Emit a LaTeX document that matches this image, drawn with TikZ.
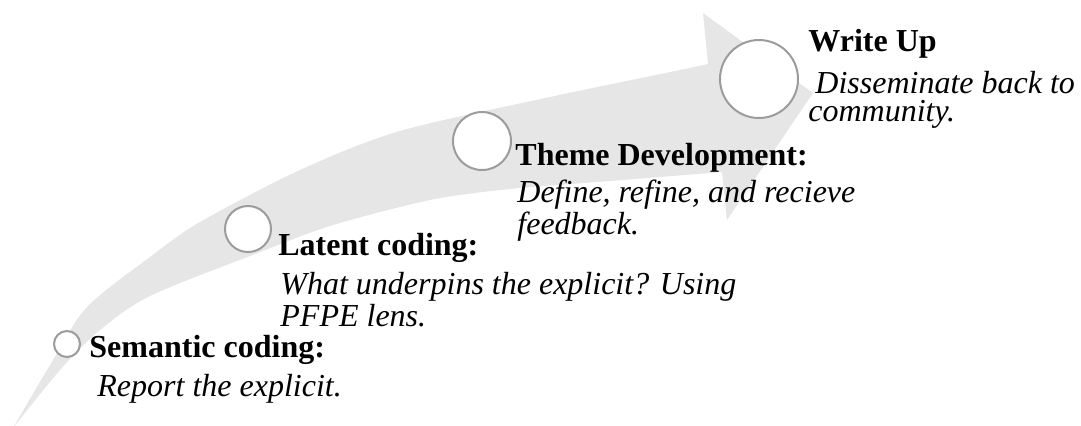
\documentclass[tikz,border=0pt]{standalone}
\usepackage{fontspec}
\setmainfont{Liberation Serif}
\definecolor{bandgray}{HTML}{E6E6E6}
\definecolor{ringgray}{HTML}{9C9C9C}
\tikzstyle{stage}=[circle,draw=ringgray,line width=1pt,fill=white,inner sep=0pt]
\tikzstyle{head}=[anchor=base west,inner sep=0pt,font=\fontsize{16}{14}\selectfont\bfseries]
\tikzstyle{note}=[anchor=base west,inner sep=0pt,align=left,font=\fontsize{16}{14}\selectfont\itshape]

\begin{document}
\begin{tikzpicture}[x=0.5pt,y=-0.5pt]
    \useasboundingbox (0,0) rectangle (1081,425);
    % The curved grey arrow
    \fill[bandgray] plot[smooth] coordinates {(13,428) (53,360) (87,307) (150,257) (200,222) (300,170) (400,131) (550,97) (680,70) (708,64)}
        -- (703,13) -- (813,93) -- (727,220) -- (722,172)
        -- plot[smooth] coordinates {(722,172) (610,181) (510,189) (430,200) (330,226) (250,256) (150,296) (100,330) (60,370) (13,428)} -- cycle;
    % Then the stage circles
    \foreach \pos/\name/\size in {{(67,344)/sem/13pt}, {(248,229)/lat/23pt}, {(482,141)/thm/29pt}, {(759,79)/wri/39pt}}
        \node[stage,minimum size=\size] (\name) at \pos {};
    % Titles and notes (a note sits on its last baseline)
    \node[head] (semT) at (89,357) {Semantic coding:};
    \node[note] (semN) at (97,396) {Report the explicit.};
    \node[head] (latT) at (278,255) {Latent coding:};
    \node[note] (latN) at (280,326) {What underpins the explicit? Using\\PFPE lens.};
    \node[head] (thmT) at (515,165) {Theme Development:};
    \node[note] (thmN) at (517,234) {Define, refine, and recieve\\feedback.};
    \node[head] (wriT) at (808,51) {Write Up};
    \node[note] (wriN) at (808,121) {\hspace*{3.5pt}Disseminate back to\\community.};
\end{tikzpicture}
\end{document}
